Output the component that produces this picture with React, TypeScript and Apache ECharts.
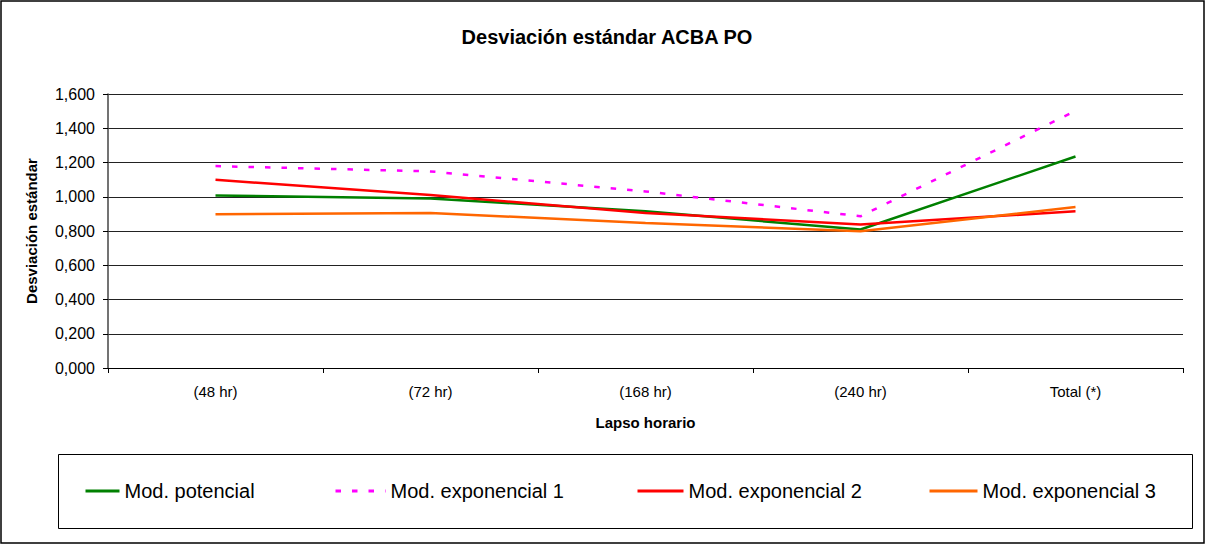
import React, { useEffect, useRef } from "react";
import * as echarts from "echarts";

const categories = ["(48 hr)", "(72 hr)", "(168 hr)", "(240 hr)", "Total (*)"];
const potencial = [1.008, 0.99, 0.915, 0.809, 1.235];
const exponencial1 = [1.179, 1.148, 1.031, 0.886, 1.501];
const exponencial2 = [1.099, 1.01, 0.905, 0.838, 0.915];
const exponencial3 = [0.898, 0.905, 0.847, 0.799, 0.94];
const seriesNames = ["Mod. potencial", "Mod. exponencial 1", "Mod. exponencial 2", "Mod. exponencial 3"];

const FONT = "'Liberation Sans', Arial, sans-serif";

export default function App() {
  const ref = useRef<HTMLDivElement>(null);
  useEffect(() => {
    document.body.style.margin = "0";
    const chart = echarts.init(ref.current!, null, { renderer: "svg" });
    const mkSeries = (name: string, data: number[], color: string, dashed = false) => ({
      name,
      type: "line",
      data,
      symbol: "none",
      lineStyle: { color, width: 2.5, type: dashed ? [5.5, 11] : "solid" },
      itemStyle: { color },
    });
    const legendPos = [
      { left: 84, w: 34 },
      { left: 334, w: 50 },
      { left: 636, w: 46 },
      { left: 928, w: 48 },
    ];
    chart.setOption({
      animation: false,
      backgroundColor: "#fff",
      title: {
        text: "Desviación estándar ACBA PO",
        left: 602,
        textAlign: "center",
        top: 22,
        textStyle: { fontFamily: FONT, fontSize: 20, fontWeight: "bold", color: "#000" },
      },
      legend: seriesNames.map((n, i) => ({
        data: [n],
        left: legendPos[i].left,
        top: 481,
        padding: 0,
        itemWidth: legendPos[i].w,
        itemHeight: 14,
        itemGap: 4,
        textStyle: { fontFamily: FONT, fontSize: 20, color: "#000" },
        itemStyle: { opacity: 0 },
        lineStyle: { width: 3 },
      })),
      graphic: [
        {
          type: "rect",
          shape: { x: 1, y: 1, width: 1203, height: 542 },
          style: { fill: "none", stroke: "#000", lineWidth: 1.5 },
          silent: true,
        },
        {
          type: "rect",
          shape: { x: 58.5, y: 454.5, width: 1134, height: 74 },
          style: { fill: "none", stroke: "#000", lineWidth: 1 },
          silent: true,
        },
      ],
      grid: { left: 108, right: 23, top: 94, bottom: 177, containLabel: false },
      xAxis: {
        type: "category",
        data: categories,
        boundaryGap: true,
        name: "Lapso horario",
        nameLocation: "middle",
        nameGap: 47,
        nameTextStyle: { fontFamily: FONT, fontSize: 15, fontWeight: "bold", color: "#000" },
        axisLine: { lineStyle: { color: "#000", width: 1 } },
        axisTick: { show: true, length: 5, lineStyle: { color: "#000" } },
        axisLabel: { fontFamily: FONT, fontSize: 15, color: "#000", margin: 16 },
      },
      yAxis: {
        type: "value",
        min: 0,
        max: 1.6,
        interval: 0.2,
        name: "Desviación estándar",
        nameLocation: "middle",
        nameGap: 69,
        nameRotate: 90,
        nameTextStyle: { fontFamily: FONT, fontSize: 15, fontWeight: "bold", color: "#000" },
        axisLine: { show: true, lineStyle: { color: "#444", width: 1.5 } },
        axisTick: { show: true, length: 5, lineStyle: { color: "#000" } },
        axisLabel: {
          fontFamily: FONT,
          fontSize: 16,
          color: "#000",
          margin: 13,
          formatter: (v: number) => v.toFixed(3).replace(".", ","),
        },
        splitLine: { lineStyle: { color: "#222", width: 1 } },
      },
      series: [
        mkSeries(seriesNames[0], potencial, "#008000"),
        mkSeries(seriesNames[1], exponencial1, "#FF00FF", true),
        mkSeries(seriesNames[2], exponencial2, "#FF0000"),
        mkSeries(seriesNames[3], exponencial3, "#FF6600"),
      ],
    });
    return () => chart.dispose();
  }, []);
  return <div ref={ref} style={{ position: "absolute", left: 0, top: 0, width: 1206, height: 545 }} />;
}
